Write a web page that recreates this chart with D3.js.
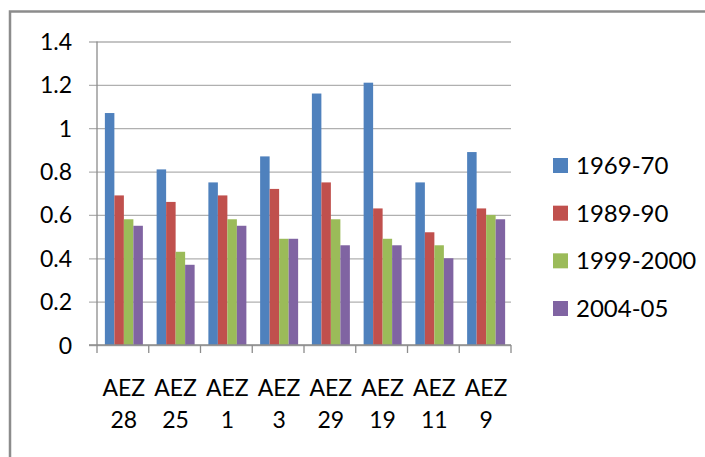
<!DOCTYPE html>
<html>
<head>
<meta charset="utf-8">
<script src="https://cdn.jsdelivr.net/npm/d3@7"></script>
<style>
  html, body { margin: 0; padding: 0; background: #fff; }
  svg { display: block; }
  text { font-family: Lato, "Open Sans", sans-serif; fill: #000; }
</style>
</head>
<body>
<svg id="chart" width="705" height="457"></svg>
<script>
const categoriesLine1 = ["AEZ", "AEZ", "AEZ", "AEZ", "AEZ", "AEZ", "AEZ", "AEZ"];
const categoriesLine2 = ["28", "25", "1", "3", "29", "19", "11", "9"];
const seriesNames = ["1969-70", "1989-90", "1999-2000", "2004-05"];
const s1969 = [1.07, 0.81, 0.75, 0.87, 1.16, 1.21, 0.75, 0.89];
const s1989 = [0.69, 0.66, 0.69, 0.72, 0.75, 0.63, 0.52, 0.63];
const s1999 = [0.58, 0.43, 0.58, 0.49, 0.58, 0.49, 0.46, 0.60];
const s2004 = [0.55, 0.37, 0.55, 0.49, 0.46, 0.46, 0.40, 0.58];
const yTicks = [0, 0.2, 0.4, 0.6, 0.8, 1, 1.2, 1.4];
const colors = ["#4F81BD", "#C0504D", "#9BBB59", "#8064A2"];

(function () {
const seriesValues = [s1969, s1989, s1999, s2004];
const cats = categoriesLine2.map((c, i) => categoriesLine1[i] + " " + c);

const svg = d3.select("#chart");
const pLeft = 97, pRight = 511, pTop = 41.5, pBottom = 345;

// outer frame (extends beyond the picture on right and bottom)
svg.append("rect")
  .attr("x", 10).attr("y", 11.5)
  .attr("width", 800).attr("height", 600)
  .attr("fill", "none").attr("stroke", "#8c8c8c").attr("stroke-width", 2.5);

const x0 = d3.scaleBand().domain(cats).range([pLeft, pRight]).padding(0);
const bw = x0.bandwidth();
const gw = 38;
const x1 = d3.scaleBand().domain(seriesNames)
  .range([(bw - gw) / 2 + 1, (bw + gw) / 2 + 1]).padding(0);
const y = d3.scaleLinear().domain([0, 1.4]).range([pBottom, pTop]);

// gridlines with ticks via axis
const yAxis = d3.axisLeft(y).tickValues(yTicks).tickSize(-(pRight - pLeft)).tickFormat(d3.format("~g"));
const gy = svg.append("g").attr("transform", `translate(${pLeft},0)`).call(yAxis);
gy.select(".domain").remove();
gy.selectAll(".tick line")
  .attr("x1", -8)
  .attr("stroke", "#b0b0b0").attr("stroke-width", 1.3);
gy.selectAll(".tick text")
  .attr("x", -25)
  .attr("dy", "0.35em")
  .style("font-size", "23px")
  .style("font-family", "Lato, 'Open Sans', sans-serif")
  .attr("fill", "#000");

// bars
const groups = svg.append("g").selectAll("g")
  .data(cats).join("g")
  .attr("transform", d => `translate(${x0(d)},0)`);
groups.selectAll("rect")
  .data((d, i) => seriesNames.map((s, j) => ({ s, j, v: seriesValues[j][i] })))
  .join("rect")
  .attr("x", d => x1(d.s))
  .attr("width", x1.bandwidth())
  .attr("y", d => y(d.v))
  .attr("height", d => y(0) - y(d.v))
  .attr("fill", d => colors[d.j]);

// x axis line and ticks
const boundaries = cats.map(c => x0(c)).concat([pRight]);
svg.append("line")
  .attr("x1", pLeft - 8).attr("x2", pRight)
  .attr("y1", y(0)).attr("y2", y(0))
  .attr("stroke", "#8c8c8c").attr("stroke-width", 1.3);
svg.append("line")
  .attr("x1", pLeft).attr("x2", pLeft)
  .attr("y1", y(1.4)).attr("y2", y(0))
  .attr("stroke", "#8c8c8c").attr("stroke-width", 1.3);
svg.append("g").selectAll("line")
  .data(boundaries).join("line")
  .attr("x1", d => d).attr("x2", d => d)
  .attr("y1", y(0)).attr("y2", y(0) + 8)
  .attr("stroke", "#8c8c8c").attr("stroke-width", 1.3);

// x labels (two lines)
const xl = svg.append("g").selectAll("text")
  .data(cats).join("text")
  .attr("text-anchor", "middle")
  .style("font-size", "23px");
xl.append("tspan").attr("x", d => x0(d) + bw / 2 + 1).attr("y", 396).text((d, i) => categoriesLine1[i]);
xl.append("tspan").attr("x", d => x0(d) + bw / 2 + 1).attr("y", 428).text((d, i) => categoriesLine2[i]);

// legend
const ly = d3.scalePoint().domain(seriesNames).range([165.5, 308.5]);
const lg = svg.append("g").selectAll("g")
  .data(seriesNames).join("g")
  .attr("transform", d => `translate(553,${ly(d)})`);
lg.append("rect")
  .attr("x", 0).attr("y", -7.5)
  .attr("width", 15).attr("height", 15)
  .attr("fill", (d, i) => colors[i]);
lg.append("text")
  .attr("x", 23).attr("dy", "0.36em")
  .style("font-size", "24px")
  .text(d => d);
})();
</script>
</body>
</html>
